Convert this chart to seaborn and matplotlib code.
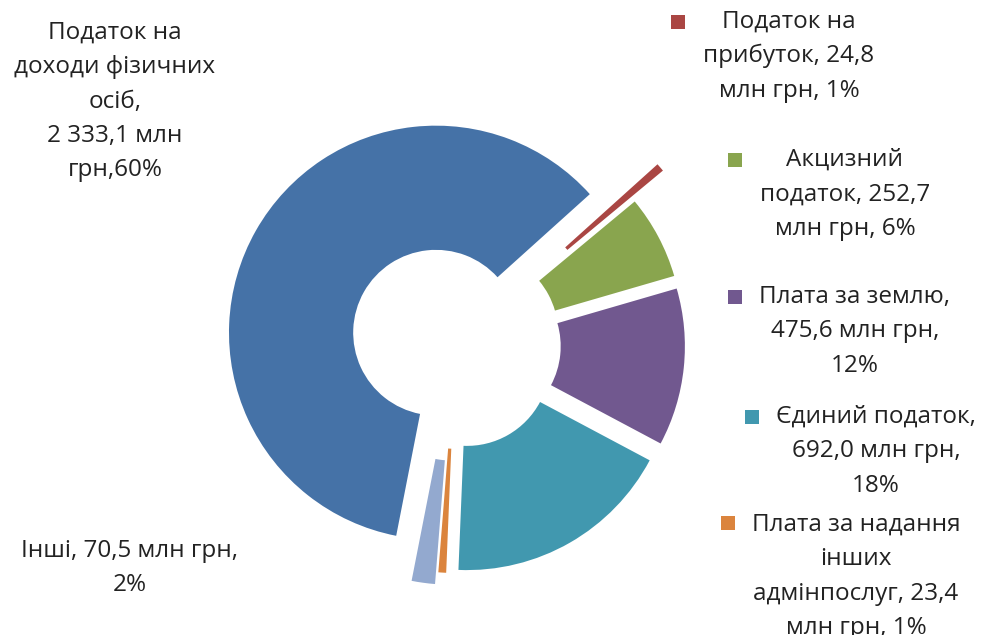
import matplotlib
matplotlib.use("Agg")
import matplotlib.pyplot as plt
from matplotlib.patches import Rectangle
import seaborn as sns

# ---- data ----
categories = ["Податок на прибуток", "Акцизний податок", "Плата за землю",
              "Єдиний податок", "Плата за надання інших адмінпослуг", "Інші",
              "Податок на доходи фізичних осіб"]
values = [24.8, 252.7, 475.6, 692.0, 23.4, 70.5, 2333.1]
label_texts = [
    "Податок на\nприбуток, 24,8\nмлн грн, 1%",
    "Акцизний\nподаток, 252,7\nмлн грн, 6%",
    "Плата за землю,\n475,6 млн грн,\n12%",
    "Єдиний податок,\n692,0 млн грн,\n18%",
    "Плата за надання\nінших\nадмінпослуг, 23,4\nмлн грн, 1%",
    "Інші, 70,5 млн грн,\n2%",
    "Податок на\nдоходи фізичних\nосіб,\n2 333,1 млн\nгрн,60%",
]
colors = ["#AA4643", "#89A54E", "#71588F", "#4198AF", "#DB843D", "#93A9CF", "#4572A7"]

# ---- style / layout (pixels) ----
W, H = 982, 635
sns.set_theme(style="white")
plt.rcParams["font.family"] = ["Open Sans", "DejaVu Sans"]

explode_px = [63, 22, 22, 22, 22, 34, 23]
center_px = (456, 344)
radius_px = 207
hole_frac = 0.40

# text anchor (center x, first-line y) in pixel coords from top; marker pos
label_pos = [(789, 22), (845, 160), (855, 297), (876, 417), (856, 525), (130, 551), (115, 33)]
marker_pos = [(678, 22), (735, 160), (735, 297), (752, 417), (728, 523), None, None]

fig = plt.figure(figsize=(W / 100, H / 100), dpi=100)
ax = fig.add_axes([0, 0, 1, 1])
pal = sns.color_palette(colors)

ax.pie(values, colors=pal, startangle=42, counterclock=False,
       center=(center_px[0], H - center_px[1]), radius=radius_px,
       explode=explode_px,
       wedgeprops=dict(width=radius_px * (1 - hole_frac), linewidth=0, edgecolor="none"))

ax.set_xlim(0, W)
ax.set_ylim(0, H)
ax.set_aspect("auto")
ax.axis("off")

lh = 34.3
for txt, (cx, y0), mp, col in zip(label_texts, label_pos, marker_pos, colors):
    lines = txt.split("\n")
    for i, line in enumerate(lines):
        ax.text(cx, H - (y0 + i * lh), line, ha="center", va="center",
                fontsize=17.5, color="#222222")
    if mp is not None:
        s = 14
        ax.add_patch(Rectangle((mp[0] - s / 2, H - mp[1] - s / 2), s, s,
                               facecolor=col, edgecolor="none"))

fig.savefig("out.png", dpi=100)
